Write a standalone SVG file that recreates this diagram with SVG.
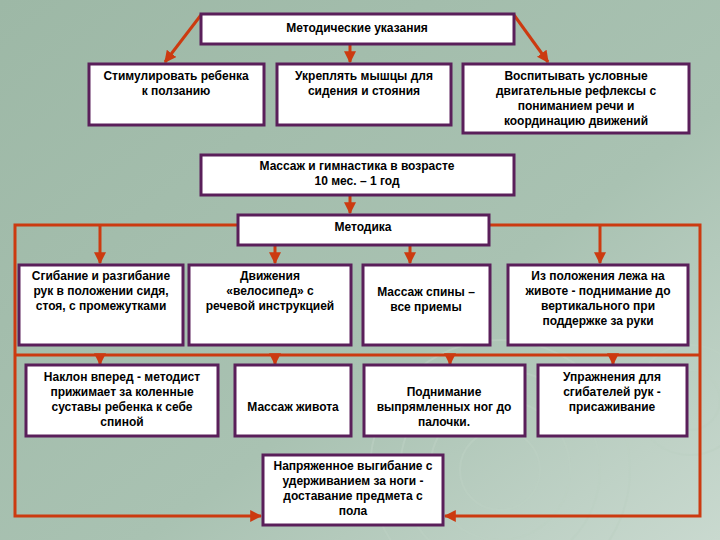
<svg xmlns="http://www.w3.org/2000/svg" width="720" height="540" viewBox="0 0 720 540">
<defs>
<linearGradient id="bg" x1="0" y1="0" x2="1" y2="1">
<stop offset="0" stop-color="#9db8a6"/><stop offset="0.6" stop-color="#a9c2b2"/><stop offset="1" stop-color="#c9d9cf"/>
</linearGradient>
<marker id="ar" viewBox="0 0 10 10" refX="9" refY="5" markerWidth="4" markerHeight="4" orient="auto"><path d="M0,0 L10,5 L0,10 z" fill="#cc3a10"/></marker>
<style>
.b{fill:#fff;stroke:#5a1f5a;stroke-width:3}
.t{font-family:"Liberation Sans",Arial,sans-serif;font-size:12px;font-weight:bold;fill:#000;text-anchor:middle}
.c{fill:none;stroke:#cc3a10;stroke-width:3}
.r{fill:none;stroke:#bcd0c3;stroke-width:2;opacity:0.6}
</style>
</defs>
<rect width="720" height="540" fill="url(#bg)"/>
<g>
<circle class="r" cx="500" cy="470" r="40"/><circle class="r" cx="500" cy="470" r="70"/><circle class="r" cx="500" cy="470" r="100"/><circle class="r" cx="500" cy="470" r="130"/>
<circle class="r" cx="690" cy="400" r="30"/><circle class="r" cx="690" cy="400" r="55"/>
</g>
<g id="connectors">
<line class="c" x1="201" y1="15" x2="165" y2="62" marker-end="url(#ar)"/>
<line class="c" x1="350" y1="45" x2="350" y2="62" marker-end="url(#ar)"/>
<line class="c" x1="514" y1="15" x2="548" y2="62" marker-end="url(#ar)"/>
<line class="c" x1="350" y1="196" x2="350" y2="213" marker-end="url(#ar)"/>
<polyline class="c" points="238,225 15,225 15,516 261,516" marker-end="url(#ar)"/>
<polyline class="c" points="489,225 700,225 700,516 445,516" marker-end="url(#ar)"/>
<line class="c" x1="100" y1="225" x2="100" y2="263" marker-end="url(#ar)"/>
<line class="c" x1="275" y1="225" x2="275" y2="263" marker-end="url(#ar)"/>
<line class="c" x1="410" y1="246" x2="410" y2="263" marker-end="url(#ar)"/>
<line class="c" x1="600" y1="225" x2="600" y2="263" marker-end="url(#ar)"/>
<line class="c" x1="15" y1="355" x2="700" y2="355"/>
<line class="c" x1="100" y1="355" x2="100" y2="364" marker-end="url(#ar)"/>
<line class="c" x1="275" y1="355" x2="275" y2="364" marker-end="url(#ar)"/>
<line class="c" x1="450" y1="355" x2="450" y2="364" marker-end="url(#ar)"/>
<line class="c" x1="613" y1="355" x2="613" y2="364" marker-end="url(#ar)"/>
</g>
<g id="top"><rect class="b" x="201" y="14" width="313" height="30"/><text class="t" x="357" y="32">Методические указания</text></g>
<g id="a"><rect class="b" x="89" y="64" width="175" height="61"/><text class="t" x="176" y="80">Стимулировать ребенка<tspan x="176" dy="15">к ползанию</tspan></text></g>
<g id="b"><rect class="b" x="277" y="64" width="174" height="61"/><text class="t" x="364" y="80">Укреплять мышцы для<tspan x="364" dy="15">сидения и стояния</tspan></text></g>
<g id="c"><rect class="b" x="463" y="64" width="226" height="69"/><text class="t" x="576" y="80">Воспитывать условные<tspan x="576" dy="15">двигательные рефлексы с</tspan><tspan x="576" dy="15">пониманием речи и</tspan><tspan x="576" dy="15">координацию движений</tspan></text></g>
<g id="massage"><rect class="b" x="201" y="155" width="313" height="40"/><text class="t" x="357" y="170">Массаж и гимнастика в возрасте<tspan x="357" dy="15">10 мес. – 1 год</tspan></text></g>
<g id="metod"><rect class="b" x="238" y="215" width="251" height="30"/><text class="t" x="363" y="231">Методика</text></g>
<g id="r1a"><rect class="b" x="19" y="265" width="164" height="80"/><text class="t" x="101" y="280">Сгибание и разгибание<tspan x="101" dy="15">рук в положении сидя,</tspan><tspan x="101" dy="15">стоя, с промежутками</tspan></text></g>
<g id="r1b"><rect class="b" x="189" y="265" width="162" height="80"/><text class="t" x="270" y="280">Движения<tspan x="270" dy="15">«велосипед» с</tspan><tspan x="270" dy="15">речевой инструкцией</tspan></text></g>
<g id="r1c"><rect class="b" x="363" y="265" width="127" height="80"/><text class="t" x="426" y="296">Массаж спины –<tspan x="426" dy="15">все приемы</tspan></text></g>
<g id="r1d"><rect class="b" x="508" y="265" width="180" height="80"/><text class="t" x="598" y="280">Из положения лежа на<tspan x="598" dy="15">животе - поднимание до</tspan><tspan x="598" dy="15">вертикального при</tspan><tspan x="598" dy="15">поддержке за руки</tspan></text></g>
<g id="r2a"><rect class="b" x="26" y="365" width="192" height="71"/><text class="t" x="122" y="381">Наклон вперед - методист<tspan x="122" dy="15">прижимает за коленные</tspan><tspan x="122" dy="15">суставы ребенка к себе</tspan><tspan x="122" dy="15">спиной</tspan></text></g>
<g id="r2b"><rect class="b" x="235" y="365" width="116" height="71"/><text class="t" x="293" y="411">Массаж живота</text></g>
<g id="r2c"><rect class="b" x="364" y="365" width="161" height="71"/><text class="t" x="444" y="396">Поднимание<tspan x="444" dy="15">выпрямленных ног до</tspan><tspan x="444" dy="15">палочки.</tspan></text></g>
<g id="r2d"><rect class="b" x="538" y="365" width="149" height="71"/><text class="t" x="612" y="381">Упражнения для<tspan x="612" dy="15">сгибателей рук -</tspan><tspan x="612" dy="15">присаживание</tspan></text></g>
<g id="bottom"><rect class="b" x="263" y="455" width="180" height="70"/><text class="t" x="353" y="470">Напряженное выгибание с<tspan x="353" dy="15">удерживанием за ноги -</tspan><tspan x="353" dy="15">доставание предмета с</tspan><tspan x="353" dy="15">пола</tspan></text></g>
</svg>
